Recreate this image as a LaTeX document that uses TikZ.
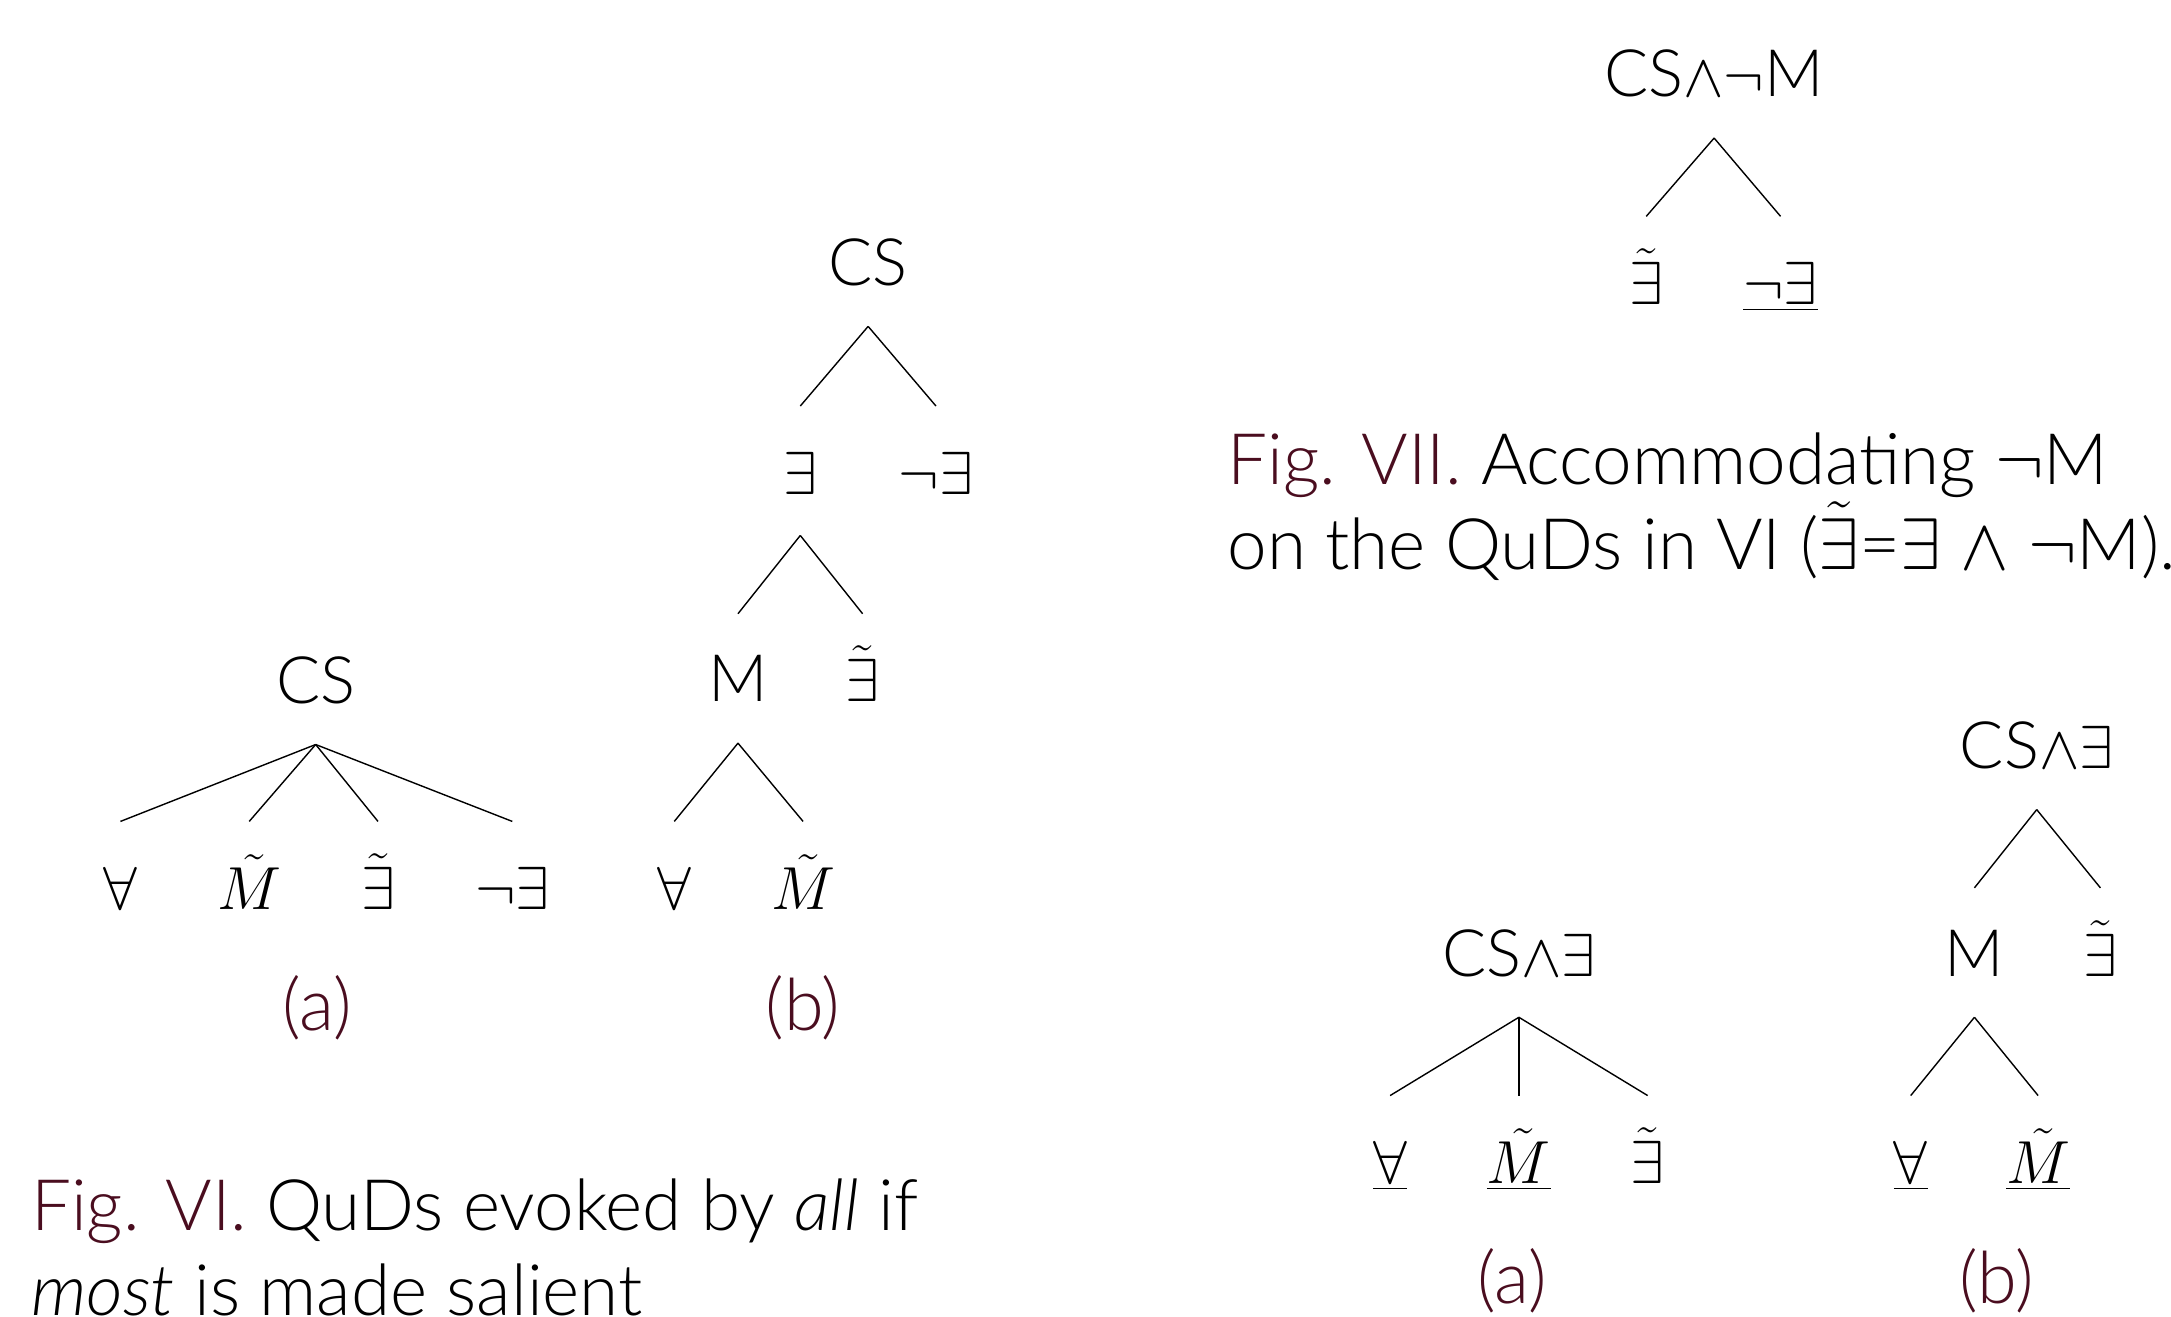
\documentclass[tikz,border=0pt]{standalone}
\usepackage{fontspec}
\setmainfont{Lato}[UprightFont=* Light,ItalicFont=* Light Italic]
\newfontfamily\treefont{Lato Light}
\usepackage{tikz}
\definecolor{cFig}{HTML}{4A0D1F}

\begin{document}
\begin{tikzpicture}[
  x=0.013846cm, y=-0.013846cm,
  lbl/.style={font=\treefont\fontsize{18.6}{19}\selectfont,
              text height=13.4pt,text depth=0pt,inner ysep=11.5pt,inner xsep=0pt},
  figcap/.style={font=\fontsize{20.2}{24}\selectfont,align=left,anchor=base west,
              inner sep=0pt},
  sub/.style={font=\fontsize{20.5}{24}\selectfont,text=cFig,inner sep=0pt},
  br/.style={line width=0.4pt},
  ]
  \useasboundingbox (0,0) rectangle (1568,951);

  % Fig. VI (a)
  \node[lbl] (csA) at (228,491) {CS};
  \node[lbl] (allA) at (87,640) {$\forall$};
  \node[lbl] (mtA) at (180,640) {$\tilde{M}$};
  \node[lbl] (etA) at (273,640) {$\tilde{\exists}$};
  \node[lbl] (neA) at (370,640) {$\neg\exists$};
  \node[sub] (subA) at (229,728) {(a)};
  \foreach \c in {allA,mtA,etA,neA}
    \draw[br] (csA.south) -- (\c.north);

  % Fig. VI (b)
  \node[lbl] (csB) at (627,189) {CS};
  \node[lbl] (exB) at (578,340) {$\exists$};
  \node[lbl] (neB) at (676,340) {$\neg\exists$};
  \node[lbl] (mB) at (533,490) {M};
  \node[lbl] (etB) at (623,490) {$\tilde{\exists}$};
  \node[lbl] (allB) at (487,640) {$\forall$};
  \node[lbl] (mtB) at (580,640) {$\tilde{M}$};
  \node[sub] (subB) at (580,728) {(b)};
  \draw[br] (csB.south) -- (exB.north);
  \draw[br] (csB.south) -- (neB.north);
  \draw[br] (exB.south) -- (mB.north);
  \draw[br] (exB.south) -- (etB.north);
  \draw[br] (mB.south) -- (allB.north);
  \draw[br] (mB.south) -- (mtB.north);

  % base = baseline of the last line
  \node[figcap] (capVI) at (22,950)
    {\textcolor{cFig}{Fig. VI.} QuDs evoked by \emph{all} if\\\emph{most} is made salient};

  % Fig. VII
  \node[lbl] (csC) at (1238,53) {CS$\wedge\neg$M};
  \node[lbl] (etC) at (1189,203) {$\tilde{\exists}$};
  \node[lbl] (neC) at (1286,203) {$\underline{\neg\exists}$};
  \draw[br] (csC.south) -- (etC.north);
  \draw[br] (csC.south) -- (neC.north);

  \node[figcap] (capVII) at (886,411)
    {\textcolor{cFig}{Fig. VII.} Accommodating $\neg$M\\on the QuDs in VI ($\tilde{\exists}$=$\exists$ $\wedge$ $\neg$M).};

  % accommodated (a)
  \node[lbl] (csD) at (1097,688) {CS$\wedge\exists$};
  \node[lbl] (allD) at (1004,838) {$\underline{\forall}$};
  \node[lbl] (mtD) at (1097,838) {$\underline{\tilde{M}}$};
  \node[lbl] (etD) at (1190,838) {$\tilde{\exists}$};
  \node[sub] (subD) at (1092,925) {(a)};
  \foreach \c in {allD,mtD,etD}
    \draw[br] (csD.south) -- (\c.north);

  % accommodated (b)
  \node[lbl] (csE) at (1471,538) {CS$\wedge\exists$};
  \node[lbl] (mE) at (1426,688) {M};
  \node[lbl] (etE) at (1517,688) {$\tilde{\exists}$};
  \node[lbl] (allE) at (1380,838) {$\underline{\forall}$};
  \node[lbl] (mtE) at (1472,838) {$\underline{\tilde{M}}$};
  \node[sub] (subE) at (1442,925) {(b)};
  \draw[br] (csE.south) -- (mE.north);
  \draw[br] (csE.south) -- (etE.north);
  \draw[br] (mE.south) -- (allE.north);
  \draw[br] (mE.south) -- (mtE.north);
\end{tikzpicture}
\end{document}
